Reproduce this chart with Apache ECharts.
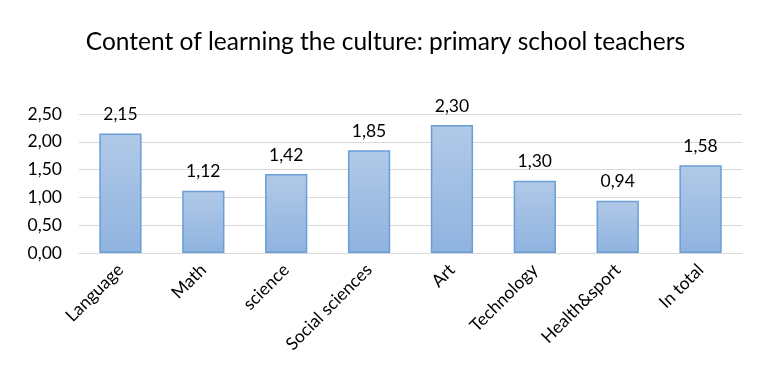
<!DOCTYPE html>
<html>
<head>
<meta charset="utf-8">
<script src="https://cdn.jsdelivr.net/npm/echarts@6/dist/echarts.min.js"></script>
<style>
  html, body { margin: 0; padding: 0; background: #fff; }
  #chart { width: 771px; height: 378px; }
</style>
</head>
<body>
<div id="chart"></div>
<script>
  var chartTitle = 'Content of learning the culture: primary school teachers';
  var categories = ['Language', 'Math', 'science', 'Social sciences', 'Art', 'Technology', 'Health&sport', 'In total'];
  var scores = [2.15, 1.12, 1.42, 1.85, 2.30, 1.30, 0.94, 1.58];
  var yTicks = [0, 0.5, 1, 1.5, 2, 2.5];

  function comma(v) {
    return Number(v).toFixed(2).replace('.', ',');
  }

  var fontFamily = 'Lato, "Open Sans", sans-serif';
  var chart = echarts.init(document.getElementById('chart'));

  var option = {
    animation: false,
    title: {
      text: chartTitle,
      left: 'center',
      top: 25,
      textStyle: {
        fontFamily: fontFamily,
        fontSize: 24.5,
        fontWeight: 'normal',
        color: '#000'
      }
    },
    grid: {
      left: 79,
      right: 29,
      top: 114,
      bottom: 125
    },
    xAxis: {
      type: 'category',
      data: categories,
      axisTick: { show: false },
      axisLine: { show: true, lineStyle: { color: '#d9d9d9', width: 1 } },
      axisLabel: {
        interval: 0,
        rotate: 45,
        margin: 14,
        fontFamily: fontFamily,
        fontSize: 17.5,
        color: '#000'
      }
    },
    yAxis: {
      type: 'value',
      min: yTicks[0],
      max: yTicks[yTicks.length - 1],
      interval: 0.5,
      axisLine: { show: false },
      axisTick: { show: false },
      splitLine: { lineStyle: { color: '#d9d9d9', width: 1 } },
      axisLabel: {
        margin: 17,
        fontFamily: fontFamily,
        fontSize: 17.5,
        color: '#000',
        formatter: comma
      }
    },
    series: [
      {
        type: 'bar',
        data: scores,
        barCategoryGap: '49%',
        itemStyle: {
          color: new echarts.graphic.LinearGradient(0, 0, 0, 1, [
            { offset: 0, color: '#b1c9e8' },
            { offset: 1, color: '#8fb3df' }
          ]),
          borderColor: '#6a9ed6',
          borderWidth: 1.5
        },
        label: {
          show: true,
          position: 'top',
          distance: 10,
          fontFamily: fontFamily,
          fontSize: 17.5,
          color: '#000',
          formatter: function (p) { return comma(p.value); }
        }
      }
    ]
  };

  chart.setOption(option);
</script>
</body>
</html>
